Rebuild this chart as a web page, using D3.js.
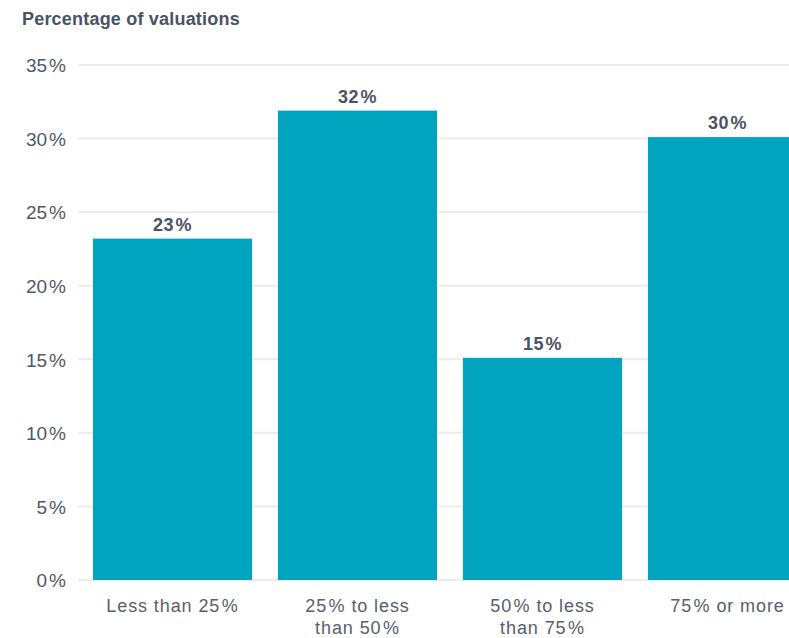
<!DOCTYPE html>
<html><head><meta charset="utf-8">
<script src="https://cdn.jsdelivr.net/npm/d3@7"></script>
<style>
html,body{margin:0;padding:0;background:#fff;overflow:hidden}
svg{display:block;font-family:"Liberation Sans",Arial,Helvetica,sans-serif}
</style></head>
<body>
<svg id="chart" width="789" height="638"></svg>
<script>
const categories = [["Less than 25%"], ["25% to less", "than 50%"], ["50% to less", "than 75%"], ["75% or more"]];
const values = [23.2, 31.9, 15.1, 30.1];
const valueLabels = ["23%", "32%", "15%", "30%"];
const yTicks = [0, 5, 10, 15, 20, 25, 30, 35];
const title = "Percentage of valuations";

const svg = d3.select("#chart");
const W = 789, H = 638;
const y = d3.scaleLinear().domain([0, 35]).range([580, 65]);
const x = d3.scaleBand().domain(d3.range(categories.length)).range([80, 820]).paddingInner(0.14).paddingOuter(0.07);

// write a string into a text element, giving the % sign a little extra room
function pctText(t, str, gap) {
  const parts = str.split("%");
  parts.forEach((p, k) => {
    if (p.length) t.append("tspan").text(p);
    if (k < parts.length - 1) t.append("tspan").attr("dx", gap).text("%");
  });
}

svg.append("text").attr("x", 22).attr("y", 25).text(title)
  .attr("font-size", 18).attr("font-weight", "bold").attr("fill", "#4a5361")
  .attr("letter-spacing", 0.2);

// gridlines
svg.append("g").selectAll("line").data(yTicks).join("line")
  .attr("x1", 78).attr("x2", W).attr("y1", d => y(d)).attr("y2", d => y(d))
  .attr("stroke", "#ececec").attr("stroke-width", 2);

// y axis labels
const yAxis = d3.axisLeft(y).tickValues(yTicks).tickFormat("").tickSize(0).tickPadding(0);
const ya = svg.append("g").attr("transform", "translate(66,0)").call(yAxis);
ya.select(".domain").remove();
ya.selectAll(".tick text").each(function(d) {
  const t = d3.select(this).attr("font-size", 19).attr("fill", "#4f5866")
    .attr("font-family", "Liberation Sans, Arial, sans-serif").attr("dy", "0.36em")
    .attr("text-anchor", "end").attr("x", 0);
  pctText(t, d + "%", 2);
});

// bars
svg.append("g").selectAll("rect").data(values).join("rect")
  .attr("x", (d, i) => x(i)).attr("width", x.bandwidth())
  .attr("y", d => y(d)).attr("height", d => y(0) - y(d))
  .attr("fill", "#00a4bf");

// value labels
svg.append("g").selectAll("text").data(values).join("text")
  .attr("x", (d, i) => x(i) + x.bandwidth() / 2).attr("y", d => y(d) - 8)
  .attr("text-anchor", "middle").attr("font-size", 18).attr("font-weight", "bold")
  .attr("fill", "#4a5361").attr("letter-spacing", 0.5)
  .each(function(d, i) { pctText(d3.select(this), valueLabels[i], 1.5); });

// x labels
svg.append("g").selectAll("text").data(categories).join("text")
  .attr("text-anchor", "middle").attr("font-size", 18).attr("fill", "#56606c")
  .attr("letter-spacing", 0.9)
  .each(function(lines, i) {
    const t = d3.select(this);
    const cx = x(i) + x.bandwidth() / 2;
    lines.forEach((ln, j) => {
      const line = t.append("tspan").attr("x", cx).attr("y", 612 + j * 22);
      const parts = ln.split("%");
      parts.forEach((p, k) => {
        if (p.length) line.append("tspan").text(p);
        if (k < parts.length - 1) line.append("tspan").attr("dx", 1.5).text("%");
      });
    });
  });
</script>
</body></html>
